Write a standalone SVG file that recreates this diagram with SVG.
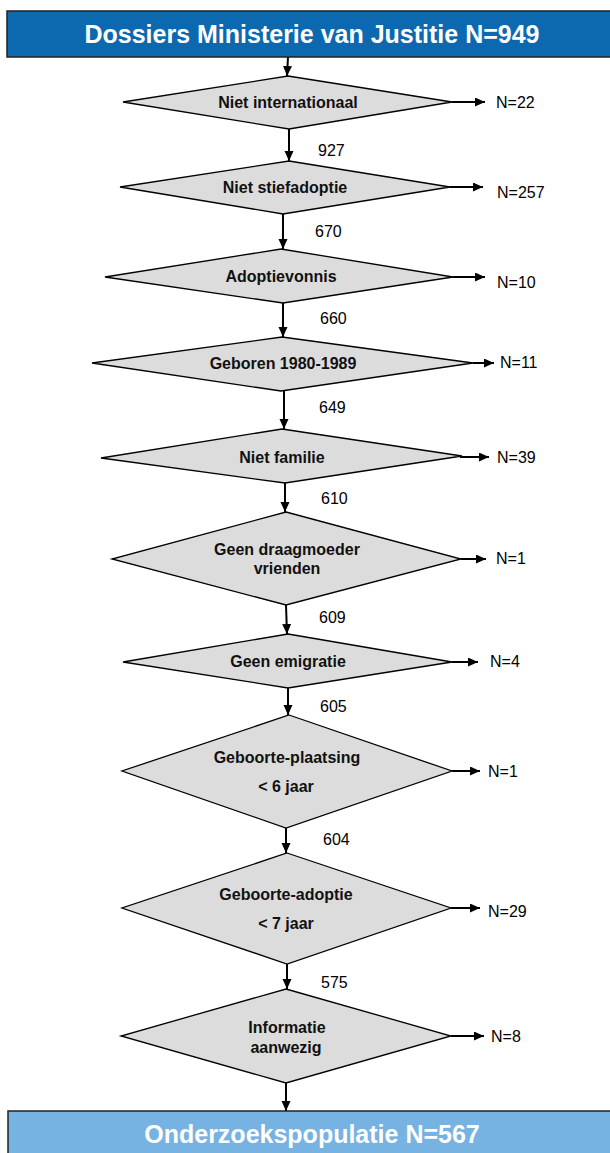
<svg xmlns="http://www.w3.org/2000/svg" width="610" height="1153" viewBox="0 0 610 1153">
<defs>
<style>
.hdr{stroke:#222;stroke-width:1.5}
.ht{font-family:"Liberation Sans",Arial,sans-serif;font-weight:bold;font-size:25px;fill:#fff;text-anchor:middle}
.dia{fill:#dcdcdc;stroke:#000;stroke-width:1.3}
.dt{font-family:"Liberation Sans",Arial,sans-serif;font-weight:bold;font-size:16px;fill:#111;text-anchor:middle}
.lb{font-family:"Liberation Sans",Arial,sans-serif;font-size:16px;fill:#000}
.c{stroke:#000;stroke-width:2;fill:none;marker-end:url(#ah)}
</style>
<marker id="ah" markerUnits="userSpaceOnUse" markerWidth="11" markerHeight="10" refX="10" refY="4.5" orient="auto">
<path d="M0,0 L10,4.5 L0,9 z" fill="#000"/>
</marker>
</defs>
<rect width="610" height="1153" fill="#fff"/>
<g id="connectors">
<path class="c" d="M288,57 L287,76"/>
<path class="c" d="M452,102 L485,102"/>
<path class="c" d="M289,129 L289,161"/>
<path class="c" d="M450,187 L483,187"/>
<path class="c" d="M283,214 L283,249"/>
<path class="c" d="M453,277 L485,277"/>
<path class="c" d="M283,303 L283,337"/>
<path class="c" d="M473,363 L494,363"/>
<path class="c" d="M284,391 L284,429"/>
<path class="c" d="M460,457 L489,457"/>
<path class="c" d="M285,483 L285,512"/>
<path class="c" d="M461,559 L486,559"/>
<path class="c" d="M286,605 L287,634"/>
<path class="c" d="M452,662 L478,662"/>
<path class="c" d="M288,688 L288,715"/>
<path class="c" d="M452,771 L480,771"/>
<path class="c" d="M286,828 L286,853"/>
<path class="c" d="M451,908 L480,908"/>
<path class="c" d="M287,964 L287,989"/>
<path class="c" d="M451,1036 L484,1036"/>
<path class="c" d="M286,1083 L286,1111"/>
</g>
<g id="start">
<rect class="hdr" x="7" y="11" width="610" height="46" fill="#0c69b0"/>
<text class="ht" x="312" y="43">Dossiers Ministerie van Justitie N=949</text>
</g>
<g id="d1"><polygon class="dia" points="288,76 452,102 289,129 123,102"/><text class="dt" x="288" y="108">Niet internationaal</text></g>
<g id="d2"><polygon class="dia" points="289,161 450,187 283,214 120,187"/><text class="dt" x="285" y="193">Niet stiefadoptie</text></g>
<g id="d3"><polygon class="dia" points="281,249 453,277 283,303 105,277"/><text class="dt" x="281" y="282">Adoptievonnis</text></g>
<g id="d4"><polygon class="dia" points="282,337 473,363 281,391 92,363"/><text class="dt" x="283" y="369">Geboren 1980-1989</text></g>
<g id="d5"><polygon class="dia" points="282,429 462,456 285,483 101,458"/><text class="dt" x="282" y="463">Niet familie</text></g>
<g id="d6"><polygon class="dia" points="286,512 461,559 286,605 112,559"/><text class="dt" x="287" y="555">Geen draagmoeder</text><text class="dt" x="287" y="574">vrienden</text></g>
<g id="d7"><polygon class="dia" points="288,634 452,662 288,688 123,662"/><text class="dt" x="288" y="667">Geen emigratie</text></g>
<g id="d8"><polygon class="dia" points="289,715 452,771 286,828 122,771"/><text class="dt" x="287" y="763">Geboorte-plaatsing</text><text class="dt" x="286" y="792">&lt; 6 jaar</text></g>
<g id="d9"><polygon class="dia" points="287,853 451,908 287,964 122,908"/><text class="dt" x="286" y="900">Geboorte-adoptie</text><text class="dt" x="286" y="929">&lt; 7 jaar</text></g>
<g id="d10"><polygon class="dia" points="286,989 451,1036 286,1083 121,1036"/><text class="dt" x="287" y="1033">Informatie</text><text class="dt" x="286" y="1053">aanwezig</text></g>
<g id="labels">
<text class="lb" x="496" y="108">N=22</text>
<text class="lb" x="318" y="156">927</text>
<text class="lb" x="497" y="198">N=257</text>
<text class="lb" x="315" y="237">670</text>
<text class="lb" x="497" y="288">N=10</text>
<text class="lb" x="320" y="324">660</text>
<text class="lb" x="500" y="368">N=11</text>
<text class="lb" x="319" y="413">649</text>
<text class="lb" x="497" y="463">N=39</text>
<text class="lb" x="321" y="504">610</text>
<text class="lb" x="496" y="564">N=1</text>
<text class="lb" x="319" y="623">609</text>
<text class="lb" x="490" y="667">N=4</text>
<text class="lb" x="320" y="712">605</text>
<text class="lb" x="488" y="777">N=1</text>
<text class="lb" x="323" y="845">604</text>
<text class="lb" x="488" y="917">N=29</text>
<text class="lb" x="321" y="988">575</text>
<text class="lb" x="491" y="1042">N=8</text>
</g>
<g id="end">
<rect class="hdr" x="8" y="1111" width="610" height="50" fill="#76b2e2"/>
<text class="ht" x="312" y="1143">Onderzoekspopulatie N=567</text>
</g>
</svg>
